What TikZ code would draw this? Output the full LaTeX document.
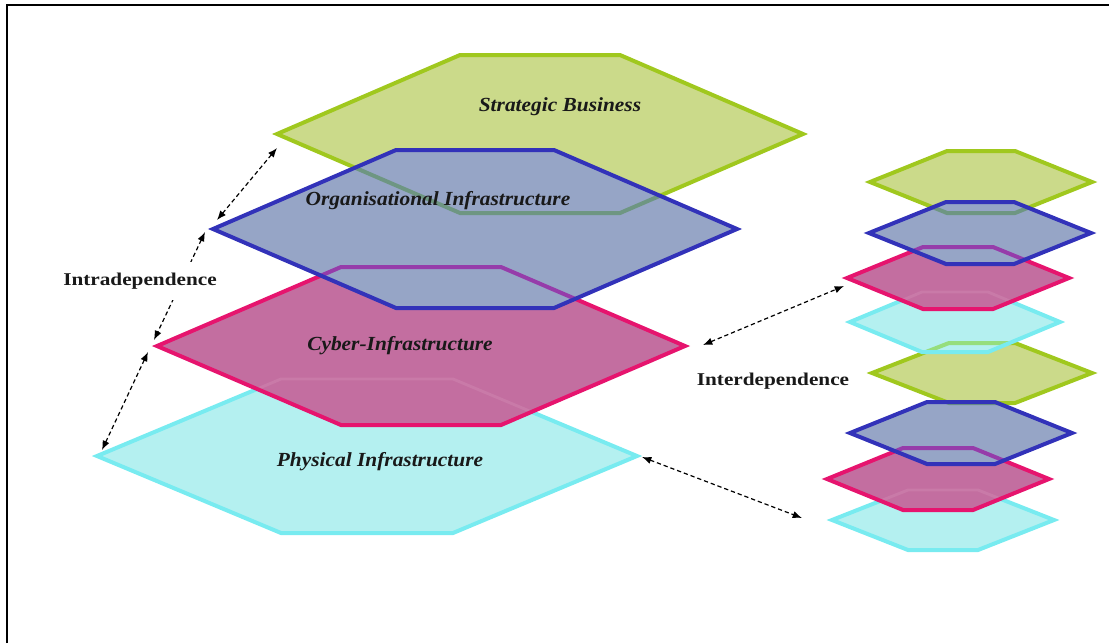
\documentclass[tikz,border=0pt]{standalone}
\usepackage{fontspec}
\setmainfont{Liberation Serif}
\newfontfamily\layerfont[FakeStretch=1.07]{Liberation Serif}
\newfontfamily\depfont[FakeStretch=1.18]{Liberation Serif}
\usetikzlibrary{arrows.meta}

% layer colours: outline, body, and outline seen through an upper layer
\definecolor{sbline}{RGB}{160,200,30}
\definecolor{sbbody}{RGB}{203,218,138}
\definecolor{oiline}{RGB}{50,50,185}
\definecolor{oibody}{RGB}{150,165,198}
\definecolor{ciline}{RGB}{230,20,110}
\definecolor{cibody}{RGB}{195,110,160}
\definecolor{piline}{RGB}{120,235,240}
\definecolor{pibody}{RGB}{180,240,240}
\definecolor{sbunderoi}{RGB}{110,150,130}
\definecolor{ciunderoi}{RGB}{150,60,170}
\definecolor{piunderci}{RGB}{201,122,168}
\definecolor{sbunderpi}{RGB}{150,222,125}

\tikzset{
  x=0.75pt, y=-0.75pt,
  edge/.style={line width=3pt, line join=miter},
  sbface/.style={fill=sbbody}, sbedge/.style={edge, draw=sbline},
  oiface/.style={fill=oibody}, oiedge/.style={edge, draw=oiline},
  ciface/.style={fill=cibody}, ciedge/.style={edge, draw=ciline},
  piface/.style={fill=pibody}, piedge/.style={edge, draw=piline},
  layertext/.style={font=\layerfont\fontsize{15}{18}\selectfont\bfseries\itshape, text=black!90},
  deptext/.style={font=\depfont\fontsize{13.5}{16}\selectfont\bfseries, text=black!90},
  dep/.style={line width=0.9pt, dash pattern=on 3.2pt off 2.2pt,
              {Latex[length=7pt,width=5.5pt]}-{Latex[length=7pt,width=5.5pt]}},
}

% hexagon: #1 cx, #2 cy, #3 half width, #4 half top edge, #5 half height, #6 options
\newcommand\hexdraw[6]{%
  \path[#6] (#1-#3,#2) -- (#1-#4,#2-#5) -- (#1+#4,#2-#5) -- (#1+#3,#2)
     -- (#1+#4,#2+#5) -- (#1-#4,#2+#5) -- cycle;}
\newcommand\hexclip[5]{%
  \clip (#1-#3,#2) -- (#1-#4,#2-#5) -- (#1+#4,#2-#5) -- (#1+#3,#2)
     -- (#1+#4,#2+#5) -- (#1-#4,#2+#5) -- cycle;}

% geometry of the layers
\def\bigSB{{540}{134}{263}{80}{79}}
\def\bigOI{{475}{229}{262}{79}{79}}
\def\bigCI{{421}{346}{264}{80}{79}}
\def\bigPI{{367}{456}{270}{86}{77}}
\def\sSBa{{981}{182}{111}{34}{31}}
\def\sOIa{{980}{233}{111}{34}{31}}
\def\sCIa{{958}{278}{111}{35}{31}}
\def\sPIa{{955}{322}{105}{33}{30}}
\def\sSBb{{982}{373}{110}{33}{30}}
\def\sOIb{{961}{433}{111}{34}{31}}
\def\sCIb{{938}{479}{111}{35}{31}}
\def\sPIb{{943}{520}{111}{35}{30}}

\begin{document}
\begin{tikzpicture}
\useasboundingbox (0,0) rectangle (1109,643);

% frame
\draw[line width=1.9pt] (7,643) -- (7,5) -- (1109,5);

% ---- main stack ----
\expandafter\hexdraw\bigSB{sbface, sbedge}
\expandafter\hexdraw\bigPI{piface, piedge}
\expandafter\hexdraw\bigCI{ciface}
\begin{scope}
  \expandafter\hexclip\bigCI
  \expandafter\hexdraw\bigPI{edge, line width=2.2pt, draw=piunderci}
\end{scope}
\expandafter\hexdraw\bigCI{ciedge}
\expandafter\hexdraw\bigOI{oiface}
\begin{scope}
  \expandafter\hexclip\bigOI
  \expandafter\hexdraw\bigSB{edge, draw=sbunderoi}
  \expandafter\hexdraw\bigCI{edge, draw=ciunderoi}
\end{scope}
\expandafter\hexdraw\bigOI{oiedge}

% ---- small stacks ----
\expandafter\hexdraw\sSBa{sbface, sbedge}
\expandafter\hexdraw\sSBb{sbface, sbedge}
\expandafter\hexdraw\sPIa{piface}
\begin{scope}
  \expandafter\hexclip\sPIa
  \expandafter\hexdraw\sSBb{edge, draw=sbunderpi}
\end{scope}
\expandafter\hexdraw\sPIa{piedge}
\expandafter\hexdraw\sCIa{ciface}
\begin{scope}
  \expandafter\hexclip\sCIa
  \expandafter\hexdraw\sPIa{edge, line width=2.2pt, draw=piunderci}
\end{scope}
\expandafter\hexdraw\sCIa{ciedge}
\expandafter\hexdraw\sOIa{oiface}
\begin{scope}
  \expandafter\hexclip\sOIa
  \expandafter\hexdraw\sSBa{edge, draw=sbunderoi}
  \expandafter\hexdraw\sCIa{edge, draw=ciunderoi}
\end{scope}
\expandafter\hexdraw\sOIa{oiedge}

\expandafter\hexdraw\sPIb{piface, piedge}
\expandafter\hexdraw\sCIb{ciface}
\begin{scope}
  \expandafter\hexclip\sCIb
  \expandafter\hexdraw\sPIb{edge, line width=2.2pt, draw=piunderci}
\end{scope}
\expandafter\hexdraw\sCIb{ciedge}
\expandafter\hexdraw\sOIb{oiface}
\begin{scope}
  \expandafter\hexclip\sOIb
  \expandafter\hexdraw\sSBb{edge, draw=sbunderoi}
  \expandafter\hexdraw\sCIb{edge, draw=ciunderoi}
\end{scope}
\expandafter\hexdraw\sOIb{oiedge}

% layer names
\node[layertext] (tsb) at (560,107) {Strategic Business};
\node[layertext] (toi) at (438,201) {Organisational Infrastructure};
\node[layertext] (tci) at (400,346) {Cyber-Infrastructure};
\node[layertext] (tpi) at (380,462) {Physical Infrastructure};

% connector end points
\coordinate (a1) at (277,148);
\coordinate (a2) at (217,220);
\coordinate (a3) at (205,232);
\coordinate (a4) at (154,340);
\coordinate (a5) at (148,352);
\coordinate (a6) at (102,450);
\coordinate (b1) at (703,345);
\coordinate (b2) at (844,286);
\coordinate (b3) at (642,457);
\coordinate (b4) at (802,518);

% intradependence
\draw[dep] (a1) -- (a2);
\draw[dep] (a3) -- (a4);
\draw[dep] (a5) -- (a6);
\node[deptext, fill=white, inner xsep=1pt, inner ysep=8pt] (intra) at (140,281) {Intradependence};

% interdependence
\draw[dep] (b1) -- (b2);
\draw[dep] (b3) -- (b4);
\node[deptext] (inter) at (773,381) {Interdependence};
\end{tikzpicture}
\end{document}
